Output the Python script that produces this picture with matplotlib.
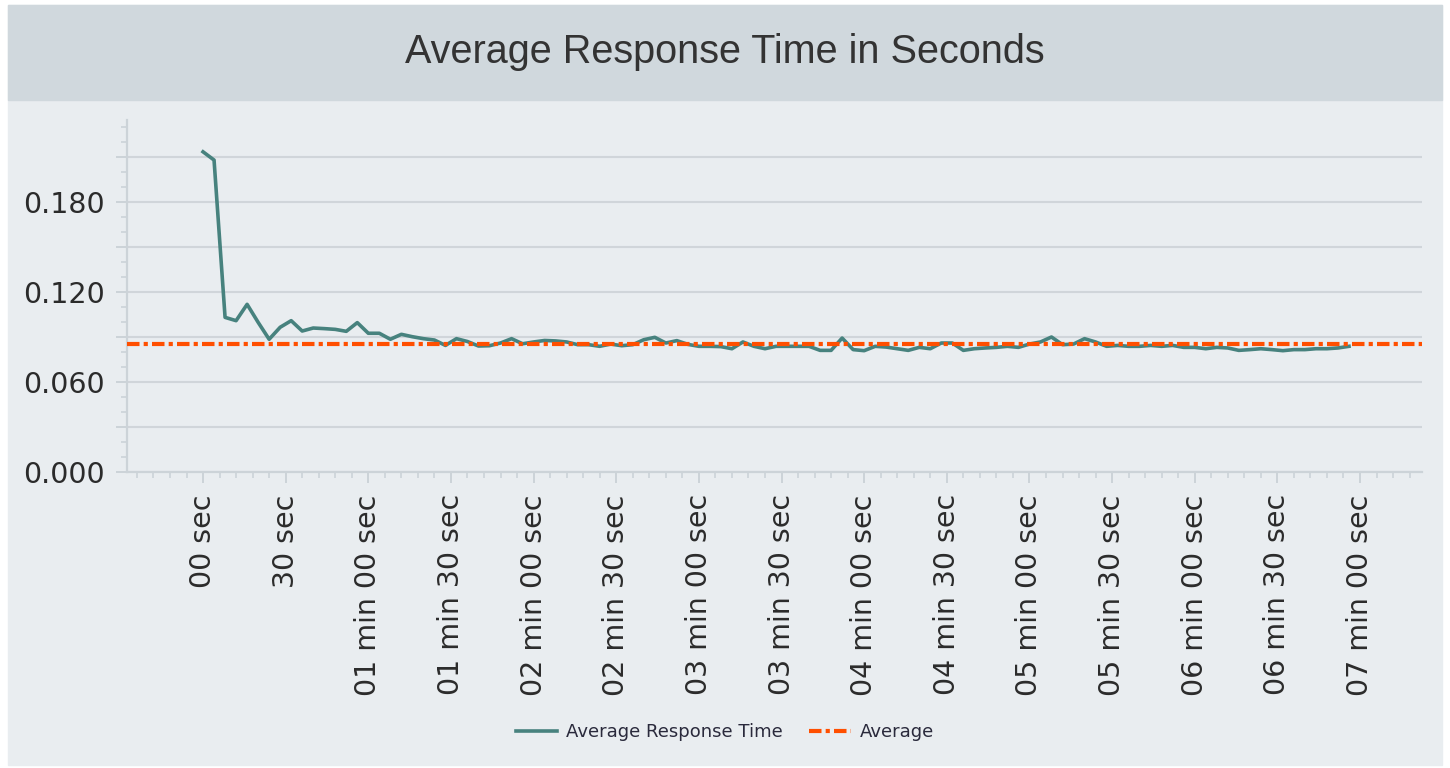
import numpy as np
import matplotlib
matplotlib.use("Agg")
import matplotlib.pyplot as plt
from matplotlib.patches import Rectangle
from matplotlib.ticker import MultipleLocator, FixedLocator, FuncFormatter

# average response time (s), one sample every 4 seconds
interval = 4
resp_time = [
    0.2135, 0.2080, 0.1031, 0.1009, 0.1118, 0.0998, 0.0885, 0.0965, 0.1009, 0.0940,
    0.0960, 0.0956, 0.0951, 0.0938, 0.0996, 0.0925, 0.0925, 0.0885, 0.0918, 0.0902,
    0.0889, 0.0880, 0.0844, 0.0889, 0.0870, 0.0840, 0.0842, 0.0860, 0.0889, 0.0855,
    0.0867, 0.0877, 0.0874, 0.0867, 0.0849, 0.0849, 0.0838, 0.0853, 0.0842, 0.0849,
    0.0882, 0.0898, 0.0860, 0.0876, 0.0851, 0.0838, 0.0838, 0.0836, 0.0822, 0.0867,
    0.0838, 0.0822, 0.0838, 0.0838, 0.0838, 0.0838, 0.0811, 0.0811, 0.0893, 0.0816,
    0.0809, 0.0838, 0.0833, 0.0822, 0.0811, 0.0831, 0.0822, 0.0860, 0.0860, 0.0811,
    0.0822, 0.0827, 0.0831, 0.0838, 0.0831, 0.0853, 0.0867, 0.0900, 0.0849, 0.0853,
    0.0889, 0.0867, 0.0838, 0.0844, 0.0838, 0.0838, 0.0844, 0.0838, 0.0844, 0.0831,
    0.0831, 0.0822, 0.0831, 0.0827, 0.0811, 0.0816, 0.0822, 0.0816, 0.0809, 0.0816,
    0.0816, 0.0822, 0.0822, 0.0827, 0.0838,
]
overall_avg = 0.0853

tick_secs = [0, 30, 60, 90, 120, 150, 180, 210, 240, 270, 300, 330, 360, 390, 420]
tick_labels = ["00 sec", "30 sec", "01 min 00 sec", "01 min 30 sec", "02 min 00 sec",
               "02 min 30 sec", "03 min 00 sec", "03 min 30 sec", "04 min 00 sec",
               "04 min 30 sec", "05 min 00 sec", "05 min 30 sec", "06 min 00 sec",
               "06 min 30 sec", "07 min 00 sec"]

t = np.arange(len(resp_time)) * interval

W, H = 1450, 768
fig = plt.figure(figsize=(W / 100, H / 100), dpi=100)
fig.patch.set_facecolor("white")

# panel + title band (behind the axes)
fig.add_artist(Rectangle((8 / W, 1 - 765 / H), 1434 / W, 760 / H,
                         transform=fig.transFigure, color="#e9edf0", zorder=-10))
fig.add_artist(Rectangle((8 / W, 1 - 100 / H), 1434 / W, 95 / H,
                         transform=fig.transFigure, color="#d0d8dd", zorder=-9))
fig.text(0.5, 1 - 52 / H, "Average Response Time in Seconds", ha="center", va="center",
         fontsize=28.5, color="#333333", family="Liberation Sans")

ax = fig.add_axes([127 / W, 1 - 472 / H, (1422 - 127) / W, (472 - 120) / H])
ax.set_facecolor("none")

ax.plot(t, resp_time, color="#47827e", lw=2.6, label="Average Response Time", zorder=3)
ax.axhline(overall_avg, color="#ff4f00", lw=3.0, dashes=(3.0, 1.0, 1.0, 1.0),
           label="Average", zorder=4)

ax.set_ylim(0, 0.2347)
ax.set_xlim(-27.6, 442.5)

ax.yaxis.set_major_locator(MultipleLocator(0.03))
ax.yaxis.set_minor_locator(MultipleLocator(0.01))
ax.yaxis.set_major_formatter(FuncFormatter(
    lambda v, p: "%.3f" % v if round(v / 0.03) % 2 == 0 else ""))
ax.xaxis.set_major_locator(FixedLocator(tick_secs))
ax.set_xticklabels(tick_labels, rotation=90)
ax.xaxis.set_minor_locator(MultipleLocator(6))

ax.grid(axis="y", color="#d0d5da", lw=1.5)
ax.set_axisbelow(True)
for s in ["top", "right"]:
    ax.spines[s].set_visible(False)
for s in ["left", "bottom"]:
    ax.spines[s].set_color("#ccd3d8")
    ax.spines[s].set_linewidth(1.6)

ax.tick_params(which="major", length=8, width=1.4, color="#ccd3d8",
               labelsize=20.5, labelcolor="#2b2b2b", pad=8)
ax.tick_params(which="minor", length=4, width=1.2, color="#ccd3d8")

fig.legend(loc="center", bbox_to_anchor=(0.5, 1 - 732 / H), ncol=2, frameon=False,
           fontsize=13, handlelength=2.3, handletextpad=0.5, columnspacing=1.45,
           labelcolor="#2a2a3c")

fig.savefig("out.png", dpi=100)
